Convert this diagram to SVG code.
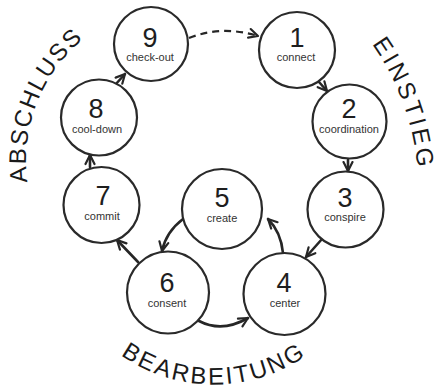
<svg xmlns="http://www.w3.org/2000/svg" xmlns:xlink="http://www.w3.org/1999/xlink" width="441" height="389" viewBox="0 0 441 389">
  <style>
    .node circle { fill: #ffffff; stroke: #2a2a2a; stroke-width: 2.2; }
    .num { font-family: "Liberation Sans", "DejaVu Sans", sans-serif; font-size: 27px; fill: #1e1e1e; text-anchor: middle; }
    .lbl { font-family: "Liberation Sans", "DejaVu Sans", sans-serif; font-size: 11px; fill: #333333; text-anchor: middle; }
    .edge { fill: none; stroke: #262626; stroke-width: 2.6; stroke-linecap: round; marker-end: url(#arrow); }
    .dashed { stroke-width: 2.2; stroke-dasharray: 7 5; stroke-linecap: butt; }
    .phase { font-family: "Liberation Sans", "DejaVu Sans", sans-serif; font-size: 24px; fill: #1a1a1a; }
  </style>
  <defs>
    <marker id="arrow" viewBox="0 0 12 12" refX="10.5" refY="6" markerWidth="12" markerHeight="12" markerUnits="userSpaceOnUse" orient="auto">
      <path d="M1.5,1.5 L10.5,6 L1.5,10.5" fill="none" stroke="#262626" stroke-width="2.2" stroke-linecap="round" stroke-linejoin="round"/>
    </marker>
    <!-- arcs carrying the phase titles -->
    <path id="arcAbschluss" d="M47.3,240.5 A159,159 0 0 1 138.5,9.0"/>
    <path id="arcEinstieg" d="M292.8,-27.8 A251.5,251.5 0 0 1 403.3,276.0"/>
    <path id="arcBearbeitung" d="M73.3,303.3 A162.5,162.5 0 0 0 354.7,303.3"/>
  </defs>

  <!-- connectors -->
  <g id="connectors">
    <path class="edge dashed" d="M189,38 Q222,25 258,36"/>
    <path class="edge" d="M319,82 L327,91"/>
    <path class="edge" d="M348,160 L348,171"/>
    <path class="edge" d="M322,239 L306,257"/>
    <path class="edge" d="M283,253 Q281,232 268,219"/>
    <path class="edge" d="M183,219 Q166,232 162,251"/>
    <path class="edge" d="M138,262 L117,240"/>
    <path class="edge" d="M199,321 Q222,333 248,318"/>
    <path class="edge" d="M90,167 L90,155"/>
    <path class="edge" d="M115,85 L125,74"/>
  </g>

  <!-- steps -->
  <g id="node-1" class="node">
    <circle cx="297" cy="50" r="38"/>
    <text class="num" x="297" y="47">1</text>
    <text class="lbl" x="296" y="61">connect</text>
  </g>
  <g id="node-2" class="node">
    <circle cx="349.5" cy="121.5" r="37"/>
    <text class="num" x="349" y="118">2</text>
    <text class="lbl" x="349" y="133">coordination</text>
  </g>
  <g id="node-3" class="node">
    <circle cx="345.5" cy="209.5" r="38"/>
    <text class="num" x="345" y="207">3</text>
    <text class="lbl" x="345" y="221">conspire</text>
  </g>
  <g id="node-4" class="node">
    <circle cx="284.5" cy="294" r="41"/>
    <text class="num" x="284" y="292">4</text>
    <text class="lbl" x="285" y="307">center</text>
  </g>
  <g id="node-5" class="node">
    <circle cx="222" cy="209" r="40"/>
    <text class="num" x="222" y="207">5</text>
    <text class="lbl" x="222" y="222">create</text>
  </g>
  <g id="node-6" class="node">
    <circle cx="168" cy="292.5" r="41"/>
    <text class="num" x="167" y="292">6</text>
    <text class="lbl" x="167" y="307">consent</text>
  </g>
  <g id="node-7" class="node">
    <circle cx="101.5" cy="205" r="38"/>
    <text class="num" x="103" y="205">7</text>
    <text class="lbl" x="102" y="220">commit</text>
  </g>
  <g id="node-8" class="node">
    <circle cx="99" cy="117.5" r="38"/>
    <text class="num" x="96" y="118">8</text>
    <text class="lbl" x="97" y="133">cool-down</text>
  </g>
  <g id="node-9" class="node">
    <circle cx="151" cy="44" r="37"/>
    <text class="num" x="150" y="47">9</text>
    <text class="lbl" x="150" y="61">check-out</text>
  </g>

  <!-- phase titles -->
  <g id="phases">
    <text class="phase" letter-spacing="1.8"><textPath xlink:href="#arcAbschluss" href="#arcAbschluss" startOffset="50%" text-anchor="middle">ABSCHLUSS</textPath></text>
    <text class="phase" letter-spacing="3"><textPath xlink:href="#arcEinstieg" href="#arcEinstieg" startOffset="50%" text-anchor="middle">EINSTIEG</textPath></text>
    <text class="phase" letter-spacing="2.4"><textPath xlink:href="#arcBearbeitung" href="#arcBearbeitung" startOffset="50%" text-anchor="middle">BEARBEITUNG</textPath></text>
  </g>
</svg>
